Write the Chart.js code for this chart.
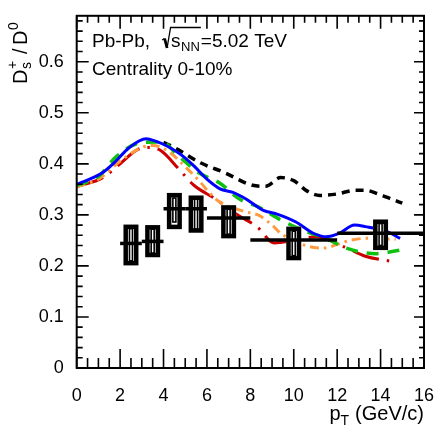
<!DOCTYPE html>
<html>
<head>
<meta charset="utf-8">
<script src="https://cdn.jsdelivr.net/npm/chart.js@4.4.0/dist/chart.umd.min.js"></script>
<style>
html, body { margin: 0; padding: 0; background: #fff; }
#wrap { width: 443px; height: 432px; }
</style>
</head>
<body>
<div id="wrap"><canvas id="ratio-chart" width="443" height="432"></canvas></div>
<script>
// Ds+/D0 ratio, Pb-Pb 5.02 TeV, 0-10% -- data points plus model curves

var xTicks = [0, 2, 4, 6, 8, 10, 12, 14, 16];
var yTicks = [0, 0.1, 0.2, 0.3, 0.4, 0.5, 0.6];

// measured points
var ptData = [2.5, 3.5, 4.5, 5.5, 7, 10, 14];
var ptLow = [2, 3, 4, 5, 6, 8, 12];
var ptHigh = [3, 4, 5, 6, 8, 12, 16];
var ratio = [0.244, 0.248, 0.312, 0.312, 0.294, 0.251, 0.264];
var systLow = [0.201, 0.217, 0.272, 0.265, 0.254, 0.211, 0.231];
var systHigh = [0.281, 0.280, 0.343, 0.338, 0.319, 0.277, 0.291];
var innerLow = [0.210, 0.225, 0.286, 0.272, 0.262, 0.220, 0.240];
var innerHigh = [0.273, 0.272, 0.333, 0.331, 0.311, 0.268, 0.283];

// model curves
var ptBlue = [0, 0.6, 1.2, 1.8, 2.4, 3.2, 3.6, 4.2, 4.8, 5.4, 6.0, 6.6, 7.2, 7.8, 8.6, 9.2, 10.1, 10.9, 11.5, 12.1, 12.8, 13.3, 14.3, 14.9];
var blue = [0.36, 0.37, 0.383, 0.405, 0.431, 0.449, 0.445, 0.434, 0.418, 0.396, 0.37, 0.351, 0.344, 0.331, 0.309, 0.302, 0.286, 0.264, 0.257, 0.264, 0.28, 0.277, 0.267, 0.254];

var ptGreen = [0, 1, 1.8, 2.9, 3.9, 4.7, 5.6, 6.6, 7.5, 8.4, 9.4, 10.6, 11.5, 12.4, 13.8, 14.9];
var green = [0.358, 0.375, 0.413, 0.441, 0.443, 0.415, 0.383, 0.362, 0.331, 0.315, 0.29, 0.267, 0.254, 0.235, 0.224, 0.231];

var ptOrange = [0, 1, 2, 3, 3.5, 4.2, 5.1, 5.7, 6.1, 6.6, 7.8, 8.4, 9.0, 9.4, 10.7, 11.3, 12.6, 13.3, 14.7];
var orange = [0.355, 0.37, 0.405, 0.432, 0.436, 0.425, 0.39, 0.364, 0.344, 0.325, 0.306, 0.299, 0.28, 0.264, 0.238, 0.235, 0.25, 0.254, 0.252];

var ptRed = [0, 1.2, 2, 2.8, 3.4, 3.9, 4.7, 5.4, 6.4, 7.4, 8.3, 9.1, 10, 11, 12.4, 13.3, 14.5];
var red = [0.355, 0.373, 0.40, 0.428, 0.432, 0.425, 0.39, 0.358, 0.331, 0.300, 0.277, 0.245, 0.25, 0.257, 0.236, 0.219, 0.209];

var ptBlack = [4.0, 4.5, 5.7, 6.8, 8.1, 8.7, 9.4, 10.0, 10.6, 11.2, 12.0, 12.8, 13.3, 13.9, 14.5, 15.0];
var black = [0.442, 0.432, 0.402, 0.383, 0.358, 0.356, 0.373, 0.367, 0.347, 0.338, 0.341, 0.348, 0.348, 0.341, 0.331, 0.323];

var FONT = '"Liberation Sans", Arial, sans-serif';

function curve(xs, ys) {
    var out = [];
    for (var i = 0; i < xs.length; i++) {
        out.push({x: xs[i], y: ys[i]});
    }
    return out;
}

function lineSet(xs, ys, color, width, dash) {
    return {
        data: curve(xs, ys),
        borderColor: color,
        borderWidth: width,
        borderDash: dash,
        pointRadius: 0,
        fill: false,
        cubicInterpolationMode: 'monotone'
    };
}

function drawPoints(chart) {
    var ctx = chart.ctx;
    var xs = chart.scales.x;
    var ys = chart.scales.y;
    ctx.save();
    ctx.strokeStyle = '#000';
    for (var i = 0; i < ptData.length; i++) {
        var xc = xs.getPixelForValue(ptData[i]);
        var yc = ys.getPixelForValue(ratio[i]);
        var yTop = ys.getPixelForValue(systHigh[i]);
        var yBot = ys.getPixelForValue(systLow[i]);
        var iTop = ys.getPixelForValue(innerHigh[i]);
        var iBot = ys.getPixelForValue(innerLow[i]);

        ctx.fillStyle = '#fff';
        ctx.fillRect(xc - 7.5, yTop, 15, yBot - yTop);
        ctx.lineWidth = 4.5;
        ctx.strokeRect(xc - 5.25, yTop + 2.25, 10.5, yBot - yTop - 4.5);
        ctx.lineWidth = 1.6;
        ctx.strokeRect(xc - 1.5, iTop, 3, iBot - iTop);

        ctx.lineWidth = 3.5;
        ctx.beginPath();
        ctx.moveTo(xs.getPixelForValue(ptLow[i]), yc);
        ctx.lineTo(xs.getPixelForValue(ptHigh[i]), yc);
        ctx.stroke();
    }
    ctx.restore();
}

function drawFrame(chart) {
    var ctx = chart.ctx;
    var a = chart.chartArea;
    var xs = chart.scales.x;
    var ys = chart.scales.y;
    ctx.save();
    ctx.strokeStyle = '#000';
    ctx.lineWidth = 1.6;
    ctx.beginPath();
    for (var k = 0; k <= 32; k++) {
        var px = xs.getPixelForValue(k * 0.5);
        var major = (k % 4 === 0);
        ctx.moveTo(px, a.bottom);
        ctx.lineTo(px, a.bottom - (major ? 19 : 10));
        ctx.moveTo(px, a.top);
        ctx.lineTo(px, a.top + (major ? 13 : 7));
    }
    for (var j = 0; j <= 34; j++) {
        var py = ys.getPixelForValue(j * 0.02);
        var maj = (j % 5 === 0);
        ctx.moveTo(a.left, py);
        ctx.lineTo(a.left + (maj ? 12 : 6), py);
        ctx.moveTo(a.right, py);
        ctx.lineTo(a.right - (maj ? 10 : 5), py);
    }
    ctx.stroke();
    ctx.lineWidth = 2;
    ctx.strokeRect(a.left, a.top, a.right - a.left, a.bottom - a.top);
    ctx.restore();
}

function drawTexts(chart) {
    var ctx = chart.ctx;
    ctx.save();
    ctx.fillStyle = '#000';
    ctx.strokeStyle = '#000';
    ctx.textBaseline = 'alphabetic';
    ctx.textAlign = 'left';

    // system label
    ctx.font = '19px ' + FONT;
    var x = 92, y = 47;
    ctx.fillText('Pb-Pb,', x, y);
    var rx = x + ctx.measureText('Pb-Pb,').width + 12;
    var sW = ctx.measureText('s').width;
    ctx.font = '13px ' + FONT;
    var nnW = ctx.measureText('NN').width;
    ctx.lineWidth = 1.3;
    ctx.beginPath();
    ctx.moveTo(rx, y - 7);
    ctx.lineTo(rx + 2.5, y - 8.5);
    ctx.stroke();
    ctx.lineWidth = 2.8;
    ctx.beginPath();
    ctx.moveTo(rx + 2.5, y - 8.5);
    ctx.lineTo(rx + 5, y + 1);
    ctx.stroke();
    ctx.lineWidth = 1.3;
    ctx.beginPath();
    ctx.moveTo(rx + 5, y + 1);
    ctx.lineTo(rx + 8.5, y - 19.5);
    ctx.lineTo(rx + 9.5 + sW + nnW + 1, y - 19.5);
    ctx.stroke();
    x = rx + 9;
    ctx.font = '19px ' + FONT;
    ctx.fillText('s', x, y);
    x += sW + 0.5;
    ctx.font = '13px ' + FONT;
    ctx.fillText('NN', x, y + 4);
    x += nnW + 1;
    ctx.font = '19px ' + FONT;
    ctx.fillText('=5.02 TeV', x, y);
    ctx.fillText('Centrality 0-10%', 92, 75);

    // x title
    ctx.font = '20px ' + FONT;
    ctx.textAlign = 'right';
    ctx.fillText('(GeV/c)', 424, 420);
    var gx = 424 - ctx.measureText('(GeV/c)').width - 6;
    ctx.font = '14px ' + FONT;
    ctx.fillText('T', gx, 425);
    gx -= ctx.measureText('T').width;
    ctx.font = '20px ' + FONT;
    ctx.fillText('p', gx, 420);

    // y title, rotated
    ctx.translate(27, 84);
    ctx.rotate(-Math.PI / 2);
    ctx.textAlign = 'left';
    ctx.font = '20px ' + FONT;
    ctx.fillText('D', 0, 0);
    ctx.font = '14px ' + FONT;
    ctx.fillText('s', 15, 4);
    ctx.fillText('+', 15, -10);
    ctx.font = '20px ' + FONT;
    ctx.fillText('/', 30, 0);
    ctx.fillText('D', 39, 0);
    ctx.font = '14px ' + FONT;
    ctx.fillText('0', 54, -9);
    ctx.restore();
}

var ratioPlugin = {
    id: 'ratioPlugin',
    beforeDraw: function(chart) {
        var ctx = chart.ctx;
        ctx.save();
        ctx.fillStyle = '#fff';
        ctx.fillRect(0, 0, chart.width, chart.height);
        ctx.restore();
    },
    afterDatasetsDraw: function(chart) {
        drawPoints(chart);
    },
    afterDraw: function(chart) {
        drawFrame(chart);
        drawTexts(chart);
    }
};

var chart = new Chart(document.getElementById('ratio-chart').getContext('2d'), {
    type: 'line',
    data: {
        datasets: [
            lineSet(ptBlue, blue, '#0000ff', 3, []),
            lineSet(ptGreen, green, '#10c010', 3.5, [12, 9]),
            lineSet(ptOrange, orange, '#ff9a40', 3, [9, 5, 2.5, 5]),
            lineSet(ptRed, red, '#cc0000', 3, [28, 8, 2.5, 8]),
            lineSet(ptBlack, black, '#000000', 3.5, [8, 6])
        ]
    },
    options: {
        responsive: false,
        animation: false,
        layout: {padding: {left: 0, right: 13.5, top: 12, bottom: 0}},
        plugins: {
            legend: {display: false},
            tooltip: {enabled: false}
        },
        scales: {
            x: {
                type: 'linear',
                min: 0,
                max: 16,
                grid: {display: false},
                border: {display: false},
                afterBuildTicks: function(scale) {
                    scale.ticks = xTicks.map(function(v) { return {value: v}; });
                },
                afterFit: function(scale) { scale.height = 64; },
                ticks: {
                    color: '#000',
                    font: {family: FONT, size: 18},
                    padding: 9,
                    maxRotation: 0,
                    autoSkip: false,
                    callback: function(v) { return String(v); }
                }
            },
            y: {
                type: 'linear',
                min: 0,
                max: 0.69,
                grid: {display: false},
                border: {display: false},
                afterBuildTicks: function(scale) {
                    scale.ticks = yTicks.map(function(v) { return {value: v}; });
                },
                afterFit: function(scale) { scale.width = 76.7; },
                ticks: {
                    color: '#000',
                    font: {family: FONT, size: 18},
                    padding: 5,
                    autoSkip: false,
                    callback: function(v) { return v === 0 ? '0' : v.toFixed(1); }
                }
            }
        }
    },
    plugins: [ratioPlugin]
});
</script>
</body>
</html>
